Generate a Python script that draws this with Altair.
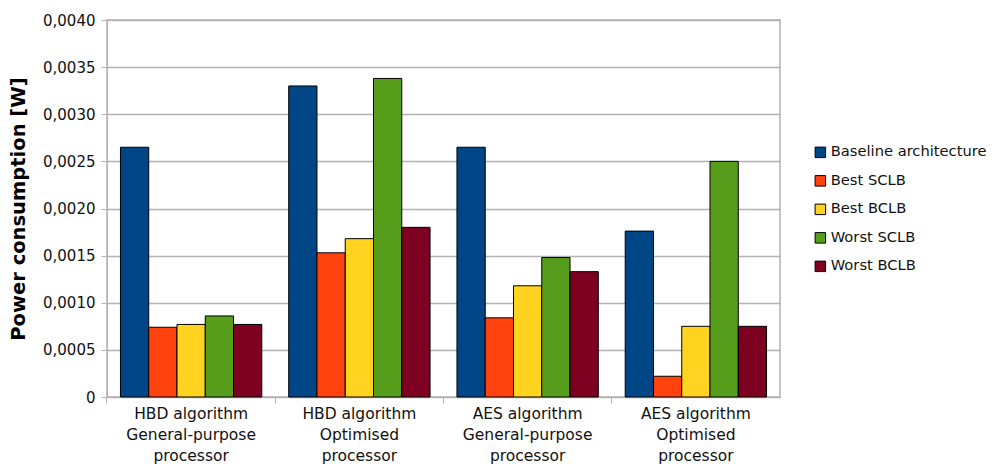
import altair as alt
import pandas as pd

groups = [
    "HBD algorithm|General-purpose|processor",
    "HBD algorithm|Optimised|processor",
    "AES algorithm|General-purpose|processor",
    "AES algorithm|Optimised|processor",
]
series = ["Baseline architecture", "Best SCLB", "Best BCLB", "Worst SCLB", "Worst BCLB"]
colors = ["#004586", "#ff420e", "#ffd320", "#579d1c", "#7e0021"]

baseline = [0.00265, 0.00330, 0.00265, 0.00176]
best_sclb = [0.00074, 0.00153, 0.00084, 0.00022]
best_bclb = [0.00077, 0.00168, 0.00118, 0.00075]
worst_sclb = [0.00086, 0.00338, 0.00148, 0.00250]
worst_bclb = [0.00077, 0.00180, 0.00133, 0.00075]

vals = [baseline, best_sclb, best_bclb, worst_sclb, worst_bclb]
rows = []
for s, v in zip(series, vals):
    for g, x in zip(groups, v):
        rows.append({"group": g, "series": s, "value": x})
df = pd.DataFrame(rows)

font = "DejaVu Sans"

chart = alt.Chart(df).mark_bar(stroke="black", strokeWidth=1).encode(
    x=alt.X("group:N", sort=groups, title=None,
            scale=alt.Scale(paddingInner=0.16, paddingOuter=0.08),
            axis=alt.Axis(labelExpr="split(datum.label, '|')", labelAngle=0,
                          labelFontSize=15.5, labelFont=font, labelColor="#111",
                          labelLineHeight=21, labelPadding=3, labelBaseline="top",
                          bandPosition=-0.096, ticks=True, tickSize=6, tickColor="#b3b3b3",
                          domainColor="#b3b3b3", grid=False)),
    xOffset=alt.XOffset("series:N", sort=series),
    y=alt.Y("value:Q", title="Power consumption [W]",
            scale=alt.Scale(domain=[0, 0.004], nice=False),
            axis=alt.Axis(values=[0, 0.0005, 0.001, 0.0015, 0.002, 0.0025, 0.003, 0.0035, 0.004],
                          labelExpr="datum.value == 0 ? '0' : replace(format(datum.value, '.4f'), '.', ',')",
                          labelFontSize=15, labelFont=font, labelColor="#111",
                          labelPadding=6, tickSize=6, tickColor="#b3b3b3",
                          domainColor="#b3b3b3", gridColor="#b3b3b3", gridWidth=1.5,
                          titleFont=font, titleFontSize=19.5, titleFontWeight="bold",
                          titleColor="black", titlePadding=14)),
    color=alt.Color("series:N", sort=series,
                    scale=alt.Scale(domain=series, range=colors),
                    legend=alt.Legend(title=None, orient="none", legendX=706, legendY=125,
                                      symbolType="square", symbolSize=110,
                                      symbolStrokeColor="black", symbolStrokeWidth=1,
                                      labelFont=font, labelFontSize=14.7, labelColor="#111",
                                      labelLimit=300,
                                      rowPadding=12.5, labelOffset=3)),
).properties(
    width=673, height=377,
    padding={"left": 99, "top": 12, "right": 212, "bottom": 68},
    autosize=alt.AutoSizeParams(type="none"),
).configure_view(stroke="#b3b3b3", strokeWidth=1.5)

chart.save("out.html", embed_options={"renderer": "svg", "actions": False})
